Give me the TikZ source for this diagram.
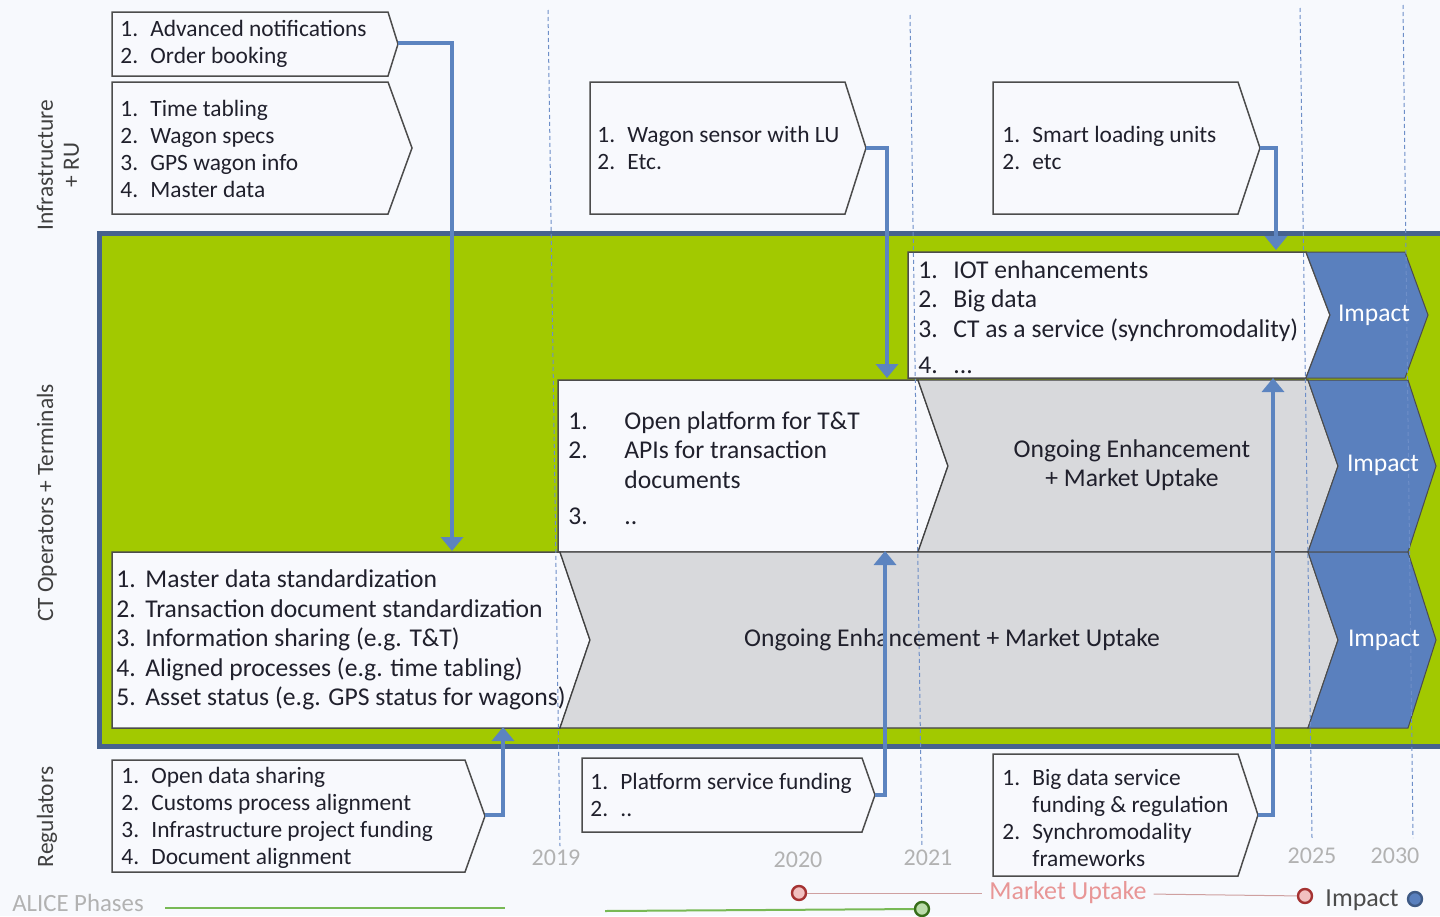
\documentclass[tikz,border=0pt]{standalone}
\usepackage{fontspec}
\setmainfont{Carlito}
\usetikzlibrary{arrows.meta}

\definecolor{bg}{RGB}{247,249,253}
\definecolor{bandgreen}{RGB}{162,201,0}
\definecolor{bandblue}{RGB}{70,98,142}
\definecolor{impactblue}{RGB}{90,128,190}
\definecolor{linkblue}{RGB}{92,132,192}
\definecolor{ongoinggray}{RGB}{216,217,220}
\definecolor{boxwhite}{RGB}{248,249,253}
\definecolor{dashblue}{RGB}{110,143,200}
\definecolor{txt}{RGB}{32,32,44}
\definecolor{uptake}{RGB}{232,150,150}
\definecolor{uptakedark}{RGB}{165,50,50}
\definecolor{phasegreen}{RGB}{120,185,85}
\definecolor{phasedark}{RGB}{55,110,25}

% pentagon box: style, x1, y1, x2, y2, tip x
\newcommand{\boxarrow}[6]{\draw[#1] (#2,#3) -- (#4,#3) -- (#6,{(#3+#5)/2}) -- (#4,#5) -- (#2,#5) -- cycle;}
% chevron: style, x1, y1, x2, y2, notch x, tip x
\newcommand{\chevarrow}[7]{\draw[#1] (#2,#3) -- (#4,#3) -- (#7,{(#3+#5)/2}) -- (#4,#5) -- (#2,#5) -- (#6,{(#3+#5)/2}) -- cycle;}
% list number
\newcommand{\nr}[2][15pt]{\makebox[#1][l]{#2}}

\tikzset{
  box/.style={draw=black!70, line width=0.75pt, fill=boxwhite, line join=miter},
  ongoing/.style={draw=black!75, line width=0.6pt, fill=ongoinggray},
  impact/.style={draw=black!70, line width=0.5pt, fill=impactblue},
  link/.style={draw=linkblue, line width=2pt, -{Triangle[width=11pt,length=7pt]}},
  yearline/.style={draw=dashblue, line width=0.5pt, dash pattern=on 2pt off 1.5pt},
  lst/.style={anchor=west, align=left, inner sep=0pt, text=txt, font=\fontsize{11.7}{13.6}\selectfont},
  big/.style={font=\fontsize{12.8}{14.8}\selectfont},
  yr/.style={text=gray!60, font=\fontsize{12}{13}\selectfont},
  role/.style={rotate=90, align=center, text=black!75, font=\fontsize{11.7}{13}\selectfont},
  imp/.style={text=white, font=\fontsize{12.8}{14}\selectfont},
  dot/.style={circle, minimum size=7pt, inner sep=0pt, line width=1.2pt},
}

\begin{document}
\begin{tikzpicture}[x=0.5pt, y=-0.5pt]
  \path[use as bounding box, fill=bg] (0,0) rectangle (1440,916);
  \clip (0,0) rectangle (1440,916);

% green band of the CT operators
  \draw[draw=bandblue, line width=2.5pt, fill=bandgreen] (99.5,233.5) rectangle (1460,746);

% rows inside the band
  \boxarrow{box}{908}{252}{1306}{378}{1330}
  \chevarrow{impact}{1306}{252}{1405}{378}{1330}{1428}
  \boxarrow{box}{558}{380}{918}{552}{948}
  \chevarrow{ongoing}{918}{380}{1308}{552}{948}{1338}
  \chevarrow{impact}{1308}{380}{1408}{552}{1338}{1436}
  \boxarrow{box}{112}{552}{560}{728}{590}
  \chevarrow{ongoing}{560}{552}{1308}{728}{590}{1338}
  \chevarrow{impact}{1308}{552}{1408}{728}{1338}{1436}

% boxes above and below the band
  \boxarrow{box}{112}{12}{388}{76}{398}
  \boxarrow{box}{112}{82}{388}{214}{412}
  \boxarrow{box}{590}{82}{845}{214}{866}
  \boxarrow{box}{993}{82}{1238}{214}{1260}
  \boxarrow{box}{112}{760}{465}{872}{485}
  \boxarrow{box}{582}{758}{862}{832}{875}
  \boxarrow{box}{993}{754}{1238}{876}{1258}

% year lines
  \draw[yearline] (548,10) -- (560,846);
  \draw[yearline] (910,15) -- (922,846);
  \draw[yearline] (1300,8) -- (1312,838);
  \draw[yearline] (1403,5) -- (1413,838);

% texts
  \node[lst] (notif) at (120,44) {\nr{1.}Advanced notifications\\\nr{2.}Order booking};
  \node[lst] (timetab) at (120,149) {\nr{1.}Time tabling\\\nr{2.}Wagon specs\\\nr{3.}GPS wagon info\\\nr{4.}Master data};
  \node[lst] (sensor) at (597,148) {\nr{1.}Wagon sensor with LU\\\nr{2.}Etc.};
  \node[lst] (smart) at (1002,148) {\nr{1.}Smart loading units\\\nr{2.}etc};
  \node[lst, big] (iot) at (918,317)
    {\nr[17.5pt]{1.}IOT enhancements\\\nr[17.5pt]{2.}Big data\\\nr[17.5pt]{3.}CT as a service (synchromodality)\\[3pt]\nr[17.5pt]{4.}...};
  \node[lst, big] (open) at (568,468)
    {\nr[28pt]{1.}Open platform for T\&T\\\nr[28pt]{2.}APIs for transaction\\\nr[28pt]{}documents\\[3pt]\nr[28pt]{3.}..};
  \node[lst, big] (master) at (116,640)
    {\nr[14.5pt]{1.}Master data standardization\\\nr[14.5pt]{2.}Transaction document standardization\\\nr[14.5pt]{3.}Information sharing (e.g. T\&T)\\\nr[14.5pt]{4.}Aligned processes (e.g. time tabling)\\\nr[14.5pt]{5.}Asset status (e.g. GPS status for wagons)};
  \node[lst] (opendata) at (121,818) {\nr{1.}Open data sharing\\\nr{2.}Customs process alignment\\\nr{3.}Infrastructure project funding\\\nr{4.}Document alignment};
  \node[lst] (platform) at (590,795) {\nr{1.}Platform service funding\\\nr{2.}..};
  \node[lst] (bigdata) at (1002,818) {\nr{1.}Big data service\\\nr{}funding \& regulation\\\nr{2.}Synchromodality\\\nr{}frameworks};

  \node[txt, big, align=center] (ongoing1) at (1132,465) {Ongoing Enhancement\\+ Market Uptake};
  \node[txt, big] (ongoing2) at (952,640) {Ongoing Enhancement + Market Uptake};
  \node[imp] (imp1) at (1374,315) {Impact};
  \node[imp] (imp2) at (1383,465) {Impact};
  \node[imp] (imp3) at (1384,640) {Impact};

% row labels
  \node[role] (infra) at (58,165) {Infrastructure\\+ RU};
  \node[role] (ct) at (47,503) {CT Operators + Terminals};
  \node[role] (reg) at (47,817) {Regulators};

% years
  \node[yr] (y2019) at (556,858) {2019};
  \node[yr] (y2020) at (798,860) {2020};
  \node[yr] (y2021) at (928,858) {2021};
  \node[yr] (y2025) at (1312,856) {2025};
  \node[yr] (y2030) at (1395,856) {2030};

% links into the band
  \coordinate (tipA) at (398,43);
  \coordinate (tipC) at (866,148);
  \coordinate (tipD) at (1260,148);
  \coordinate (tipE) at (485,815);
  \coordinate (tipF) at (875,795);
  \coordinate (tipG) at (1258,815);
  \coordinate (inRow3) at (452,551);
  \coordinate (inRow2) at (887,378);
  \coordinate (inRow1) at (1276,250);
  \coordinate (upRow3) at (503,727);
  \coordinate (upRow2) at (885,551);
  \coordinate (upRow1) at (1273,378);
  \draw[link] (tipA) -| (inRow3);
  \draw[link] (tipC) -| (inRow2);
  \draw[link] (tipD) -| (inRow1);
  \draw[link] (tipE) -| (upRow3);
  \draw[link] (tipF) -| (upRow2);
  \draw[link] (tipG) -| (upRow1);

% legend
  \node[text=gray!60, font=\fontsize{12.4}{13}\selectfont] (phases) at (78,903) {ALICE Phases};
  \coordinate (ph1a) at (165,908);
  \coordinate (ph1b) at (505,908);
  \draw[phasegreen, line width=1pt] (ph1a) -- (ph1b);
  \node[dot, draw=phasedark, fill=phasegreen!50] (ph2dot) at (922,909) {};
  \coordinate (ph2a) at (605,911);
  \draw[phasegreen, line width=1pt] (ph2a) -- (ph2dot);
  \node[dot, draw=uptakedark, fill=uptake!60] (mu1) at (799,893) {};
  \node[text=uptake, font=\fontsize{13}{14}\selectfont] (mu) at (1068,893) {Market Uptake};
  \node[dot, draw=uptakedark, fill=uptake!60] (mu2) at (1305,896) {};
  \draw[uptake!80!black!70, line width=0.5pt] (mu1) -- (mu);
  \draw[uptake!80!black!70, line width=0.5pt] (mu) -- (mu2);
  \node[text=black!70, font=\fontsize{13}{14}\selectfont] (impleg) at (1362,900) {Impact};
  \node[dot, draw=impactblue!70!black, fill=impactblue] (impdot) at (1415,899) {};
\end{tikzpicture}
\end{document}
